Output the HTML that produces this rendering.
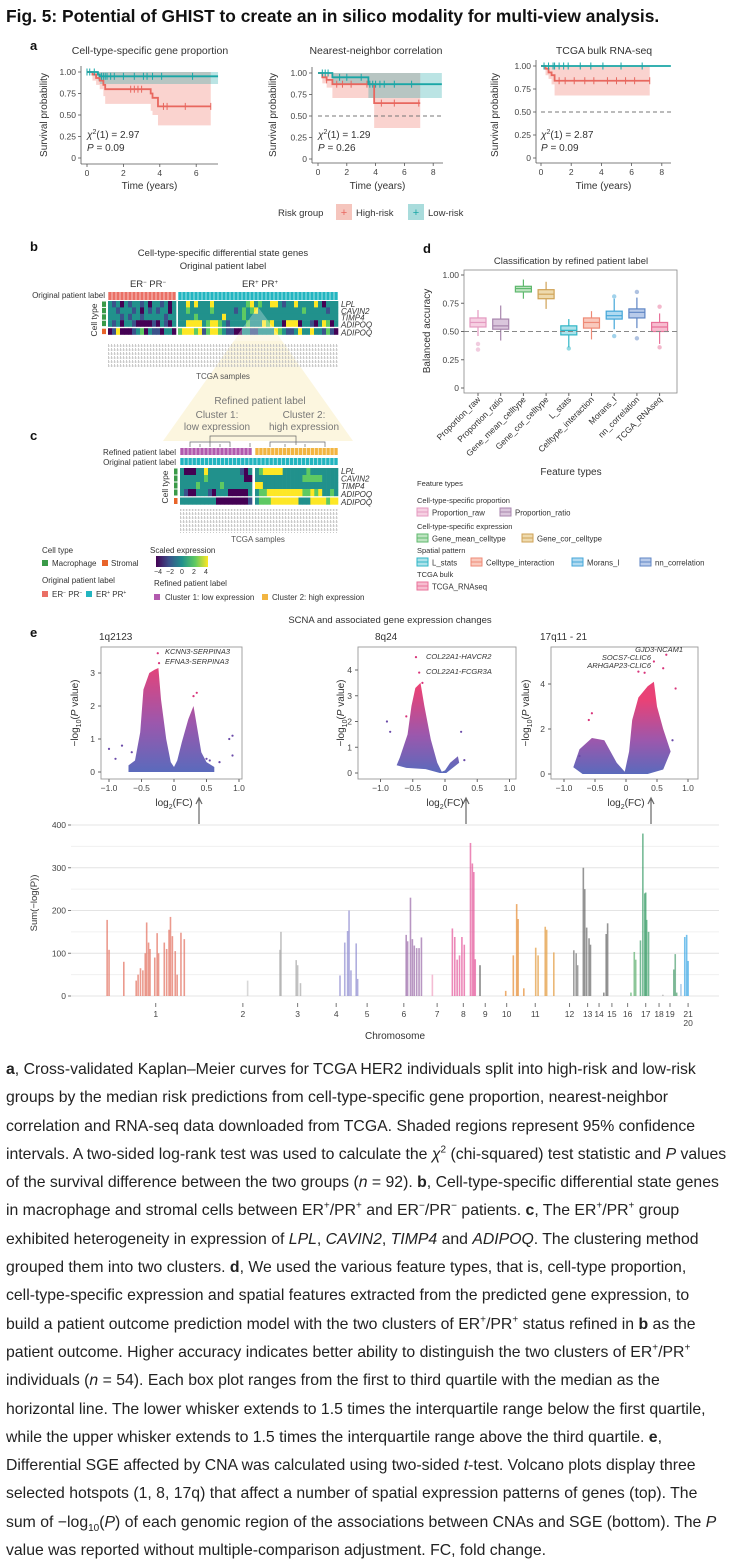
<!DOCTYPE html>
<html><head><meta charset="utf-8">
<style>
html,body{margin:0;padding:0;background:#fff;}
body{width:738px;height:1563px;position:relative;overflow:hidden;font-family:"Liberation Sans",sans-serif;color:#222;}
#hdr{position:absolute;left:6px;top:6px;font-weight:bold;font-size:17.4px;white-space:nowrap;color:#111;}
#fig{position:absolute;left:0;top:0;}
#cap{position:absolute;left:6px;top:1056px;font-size:15.8px;line-height:28.3px;color:#222;}
#cap div{white-space:nowrap;height:28.3px;}
#cap sup,#cap sub{line-height:0;font-size:10px;}
svg text{font-family:"Liberation Sans",sans-serif;}
</style></head><body>
<div id="hdr">Fig. 5: Potential of GHIST to create an in silico modality for multi-view analysis.</div>
<svg id="fig" width="738" height="1050"></svg>
<div id="cap">
<div><b>a</b>, Cross-validated Kaplan–Meier curves for TCGA HER2 individuals split into high-risk and low-risk</div>
<div>groups by the median risk predictions from cell-type-specific gene proportion, nearest-neighbor</div>
<div>correlation and RNA-seq data downloaded from TCGA. Shaded regions represent 95% confidence</div>
<div>intervals. A two-sided log-rank test was used to calculate the <i>χ</i><sup>2</sup> (chi-squared) test statistic and <i>P</i> values</div>
<div>of the survival difference between the two groups (<i>n</i> = 92). <b>b</b>, Cell-type-specific differential state genes</div>
<div>in macrophage and stromal cells between ER<sup>+</sup>/PR<sup>+</sup> and ER<sup>−</sup>/PR<sup>−</sup> patients. <b>c</b>, The ER<sup>+</sup>/PR<sup>+</sup> group</div>
<div>exhibited heterogeneity in expression of <i>LPL</i>, <i>CAVIN2</i>, <i>TIMP4</i> and <i>ADIPOQ</i>. The clustering method</div>
<div>grouped them into two clusters. <b>d</b>, We used the various feature types, that is, cell-type proportion,</div>
<div>cell-type-specific expression and spatial features extracted from the predicted gene expression, to</div>
<div>build a patient outcome prediction model with the two clusters of ER<sup>+</sup>/PR<sup>+</sup> status refined in <b>b</b> as the</div>
<div>patient outcome. Higher accuracy indicates better ability to distinguish the two clusters of ER<sup>+</sup>/PR<sup>+</sup></div>
<div>individuals (<i>n</i> = 54). Each box plot ranges from the first to third quartile with the median as the</div>
<div>horizontal line. The lower whisker extends to 1.5 times the interquartile range below the first quartile,</div>
<div>while the upper whisker extends to 1.5 times the interquartile range above the third quartile. <b>e</b>,</div>
<div>Differential SGE affected by CNA was calculated using two-sided <i>t</i>-test. Volcano plots display three</div>
<div>selected hotspots (1, 8, 17q) that affect a number of spatial expression patterns of genes (top). The</div>
<div>sum of −log<sub>10</sub>(<i>P</i>) of each genomic region of the associations between CNAs and SGE (bottom). The <i>P</i></div>
<div>value was reported without multiple-comparison adjustment. FC, fold change.</div>
</div>
<script>
// ---------- DATA ----------
const km1HighT=[0,0.3,0.5,0.7,0.9,1.0,3.5,3.6,3.9,6.8];
const km1HighS=[1,0.97,0.93,0.9,0.85,0.8,0.75,0.7,0.6,0.6];
const km1HighLo=[1,0.9,0.85,0.8,0.72,0.63,0.55,0.5,0.38,0.38];
const km1HighCens=[2.4,2.6,2.8,3.0,4.2,4.4,5.4,6.8];
const km1LowT=[0,0.6,0.7,7.2];
const km1LowS=[1,0.97,0.95,0.95];
const km1LowLo=[1,0.9,0.86,0.86];
const km1LowCens=[0,0.15,0.4,0.8,0.9,1.0,1.1,1.3,1.5,2.0,2.6,3.1,3.3,3.6,4.1,5.8];
const km2HighT=[0,0.3,0.6,1.0,3.9,7.1];
const km2HighS=[1,0.95,0.92,0.87,0.65,0.65];
const km2HighLo=[1,0.88,0.83,0.71,0.36,0.36];
const km2HighCens=[0.6,1.3,1.7,2.3,3.4,4.4,5.3,7.0];
const km2LowT=[0,1.0,3.5,8.6];
const km2LowS=[1,0.95,0.87,0.87];
const km2LowLo=[1,0.87,0.71,0.71];
const km2LowCens=[0.3,0.5,0.7,1.5,2.0,3.0,3.6,3.8,4.0,4.3,4.6,5.3,6.5];
const km3HighT=[0,0.3,0.5,0.7,0.9,7.2];
const km3HighS=[1,0.97,0.93,0.9,0.84,0.84];
const km3HighLo=[1,0.9,0.86,0.8,0.68,0.68];
const km3HighCens=[1.2,1.6,2.2,2.9,3.5,4.4,5.0,5.6,6.2,7.2];
const km3LowT=[0,8.6];
const km3LowS=[1,1];
const km3LowLo=[1,0.985];
const km3LowCens=[0.2,0.5,0.8,0.9,1.2,1.5,1.8,2.6,3.3,4.1,5.3,6.7];
const kmYTicks=[0,0.25,0.5,0.75,1];
const kmYTickLabels=["0","0.25","0.50","0.75","1.00"];
const hmBneg=["21202122120221202","22122212021212202","22212122122222122","21202210000102102","01400012302110220"];
const hmBpos=["2242422242222222234232244212242222420222","2232222232222212323422222222222322222122","2222322222242222322222222222222222222222","2244442344321222232224342204440221024302","3444341344321100221122224321124224221310"];
const hmC1=["200022422222222102","222222322222222200","222232222232222222","210022210222000002","222222222000000001"];
const hmC2=["234444422222232222222","222222222222333332222","442222222222222222222","233444444444334342232","233344444442224444344"];
const geneLabels=["LPL","CAVIN2","TIMP4","ADIPOQ","ADIPOQ"];
const boxCats=["Proportion_raw","Proportion_ratio","Gene_mean_celltype","Gene_cor_celltype","L_stats","Celltype_interaction","Morans_I","nn_correlation","TCGA_RNAseq"];
const boxQ1=[0.54,0.52,0.85,0.79,0.47,0.53,0.61,0.62,0.50];
const boxMed=[0.58,0.55,0.88,0.83,0.51,0.58,0.64,0.67,0.54];
const boxQ3=[0.62,0.61,0.90,0.87,0.55,0.62,0.68,0.70,0.58];
const boxLo=[0.46,0.42,0.79,0.70,0.36,0.43,0.52,0.53,0.39];
const boxHi=[0.69,0.73,0.96,0.94,0.61,0.68,0.79,0.80,0.66];
const boxOut=[[0.39,0.34],[],[],[],[0.35],[],[0.81,0.46],[0.85,0.44],[0.72,0.36]];
const boxYTicks=[0,0.25,0.5,0.75,1];
const boxYTickLabels=["0","0.25","0.50","0.75","1.00"];
const v1Env=[[-0.7,0],[-0.7,0.2],[-0.6,0.35],[-0.52,1.2],[-0.47,2.5],[-0.38,3.0],[-0.3,3.1],[-0.24,3.15],[-0.2,2.2],[-0.12,1.0],[-0.05,0.3],[0,0.15],[0.05,0.35],[0.12,0.9],[0.22,1.6],[0.3,2.0],[0.36,1.3],[0.42,0.6],[0.5,0.3],[0.62,0.15],[0.62,0]];
const v1Out=[[-1.0,0.7],[-0.9,0.4],[-0.8,0.8],[-0.65,0.6],[0.5,0.4],[0.55,0.35],[0.85,1.0],[0.9,1.1],[0.9,0.5],[0.35,2.4],[0.3,2.3],[-0.25,3.6],[-0.23,3.3],[0.7,0.3]];
const v2Env=[[-0.75,0.3],[-0.7,0.6],[-0.58,1.5],[-0.52,2.6],[-0.46,3.3],[-0.38,3.5],[-0.32,2.6],[-0.22,1.3],[-0.12,0.4],[-0.05,0.05],[0,0.1],[0.08,0.4],[0.2,0.65],[0.22,0.4],[0.12,0.2],[0.02,0],[-0.08,0],[-0.3,0.15],[-0.6,0.2]];
const v2Out=[[-0.45,4.5],[-0.4,3.9],[-0.9,2.0],[-0.85,1.6],[0.25,1.6],[0.3,0.5],[-0.6,2.2],[-0.35,3.5]];
const v3Env=[[-0.85,0.3],[-0.75,1.1],[-0.55,1.6],[-0.35,1.5],[-0.15,0.5],[-0.02,0.1],[0.05,1.0],[0.1,2.4],[0.2,3.4],[0.35,3.9],[0.45,4.1],[0.5,3.0],[0.6,2.0],[0.72,1.0],[0.6,0.2],[0.35,0],[-0.7,0]];
const v3Out=[[0.65,5.3],[0.45,5.0],[0.6,4.7],[0.3,4.5],[0.2,4.55],[0.8,3.8],[-0.6,2.4],[-0.55,2.7],[-0.75,0.8],[0.75,1.5]];
const manPos=[225,229,260,286,290,295,300,305,308,312,315,325,330,333,345,350,355,358,362,368,372,380,387,520,588,590,622,625,631,714,724,730,733,737,748,751,853,856,862,866,870,875,880,885,908,950,955,960,965,970,975,988,992,995,998,1008,1062,1078,1085,1088,1100,1125,1130,1145,1148,1163,1205,1210,1213,1225,1228,1232,1237,1240,1268,1273,1276,1325,1332,1335,1345,1350,1354,1356,1358,1362,1392,1415,1418,1421,1430,1438,1442,1445];
const manVal=[178,108,80,36,50,65,60,100,172,125,110,90,147,100,125,110,155,185,140,105,50,148,133,36,108,150,84,72,30,48,125,152,200,60,123,40,143,128,230,133,118,112,112,137,50,158,138,85,95,138,120,358,310,290,86,72,12,95,215,180,18,113,95,162,155,102,107,100,72,300,250,160,135,120,8,145,170,8,103,85,130,380,240,242,178,150,3,62,98,8,28,138,143,82];
const manChr=[1,1,1,1,1,1,1,1,1,1,1,1,1,1,1,1,1,1,1,1,1,1,1,2,3,3,3,3,3,4,4,4,4,4,4,4,6,6,6,6,6,6,6,6,7,8,8,8,8,8,8,8,8,8,8,9,10,10,10,10,10,11,11,11,11,11,12,12,12,13,13,13,13,13,15,15,15,16,16,16,17,17,17,17,17,17,18,19,19,19,20,21,21,21];
const chrLabels=["1","2","3","4","5","6","7","8","9","10","11","12","13","14","15","16","17","18","19","21"];
const chrTickPos=[327,510,625,706,771,848,918,973,1019,1064,1124,1196,1234,1258,1285,1318,1356,1384,1407,1445];
const manYTicks=[0,100,200,300,400];

// ---------- HELPERS ----------
const NS="http://www.w3.org/2000/svg";
const svg=document.getElementById('fig');
function mk(tag,attrs,parent){const e=document.createElementNS(NS,tag);for(const k in attrs)e.setAttribute(k,attrs[k]);(parent||svg).appendChild(e);return e;}
function tx(x,y,s,size,opts,parent){opts=opts||{};const e=mk('text',{x:x,y:y,'font-size':size,fill:opts.fill||'#333','text-anchor':opts.anchor||'start'},parent);if(opts.weight)e.setAttribute('font-weight',opts.weight);if(opts.style)e.setAttribute('font-style',opts.style);if(opts.rot)e.setAttribute('transform','rotate('+opts.rot+' '+x+' '+y+')');e.textContent=s;return e;}

const defs=mk('defs',{});
const pat=mk('pattern',{id:'noise',width:3,height:4,patternUnits:'userSpaceOnUse'},defs);
mk('rect',{x:0,y:0,width:0.8,height:3,fill:'#bdbdbd'},pat);
mk('rect',{x:1.5,y:1,width:0.7,height:2,fill:'#d5d5d5'},pat);
const viridis=['#440154','#3b528b','#21918c','#5ec962','#fde725'];
const cb=mk('linearGradient',{id:'vir',x1:0,x2:1,y1:0,y2:0},defs);
['#440154','#3b528b','#21918c','#5ec962','#fde725'].forEach((c,i)=>mk('stop',{offset:i/4,'stop-color':c},cb));

// ---------- PANEL A ----------
const kmCfg=[
 {x0:87,xs:18.2,y1:72,y0:158,ax:81,ay:164,xe:218,ticks:[0,2,4,6],title:"Cell-type-specific gene proportion",tc:150,ylx:47,dashed:false,chi:"2.97",p:"0.09",
  hT:km1HighT,hS:km1HighS,hL:km1HighLo,hC:km1HighCens,lT:km1LowT,lS:km1LowS,lL:km1LowLo,lC:km1LowCens},
 {x0:318,xs:14.4,y1:73,y0:159,ax:312,ay:163,xe:443,ticks:[0,2,4,6,8],title:"Nearest-neighbor correlation",tc:376,ylx:276,dashed:true,chi:"1.29",p:"0.26",
  hT:km2HighT,hS:km2HighS,hL:km2HighLo,hC:km2HighCens,lT:km2LowT,lS:km2LowS,lL:km2LowLo,lC:km2LowCens},
 {x0:541,xs:15.1,y1:66,y0:158,ax:536,ay:163,xe:671,ticks:[0,2,4,6,8],title:"TCGA bulk RNA-seq",tc:604,ylx:498,dashed:true,chi:" 2.87",p:"0.09",
  hT:km3HighT,hS:km3HighS,hL:km3HighLo,hC:km3HighCens,lT:km3LowT,lS:km3LowS,lL:km3LowLo,lC:km3LowCens}];
const lab_a=tx(30,50,"a",13,{weight:'bold',fill:'#111'});


function stepPath(T,S,X,Y){let d='M'+X(T[0])+','+Y(S[0]);for(let i=1;i<T.length;i++){d+=' L'+X(T[i])+','+Y(S[i-1])+' L'+X(T[i])+','+Y(S[i]);}return d;}
function bandPath(T,Lo,X,Y){let d='M'+X(T[0])+','+Y(1);d+=' L'+X(T[T.length-1])+','+Y(1);for(let i=T.length-1;i>=0;i--){d+=' L'+X(T[i])+','+Y(Lo[i]);if(i>0)d+=' L'+X(T[i])+','+Y(Lo[i-1]);}return d+'Z';}
kmCfg.forEach((c,pi)=>{
  const g=mk('g',{});
  
  
  const X=t=>c.x0+t*c.xs, Y=s=>c.y0-(c.y0-c.y1)*s;
  const t1=tx(c.tc,54,c.title,10.5,{anchor:'middle'},g);
  
  
  const bh=mk('path',{d:bandPath(c.hT,c.hL,X,Y),fill:'rgba(240,120,110,0.33)'},g);
  
  
  const bl=mk('path',{d:bandPath(c.lT,c.lL,X,Y),fill:'rgba(30,165,165,0.30)'},g);
  
  
  if(c.dashed){const dl=mk('line',{x1:X(0),x2:c.xe,y1:Y(0.5),y2:Y(0.5),stroke:'#777','stroke-width':1,'stroke-dasharray':'4,3'},g);
    
    }
  const lh=mk('path',{d:stepPath(c.hT,c.hS,X,Y),fill:'none',stroke:'#e8675f','stroke-width':1.8},g);
  
  
  const ll=mk('path',{d:stepPath(c.lT,c.lS,X,Y),fill:'none',stroke:'#1aa6a6','stroke-width':1.8},g);
  
  
  function survAt(T,S,t){let s=S[0];for(let i=0;i<T.length;i++){if(T[i]<=t)s=S[i];}return s;}
  c.hC.forEach(t=>{const m=mk('path',{d:'M'+X(t)+','+(Y(survAt(c.hT,c.hS,t))-3.5)+' v7',stroke:'#e8675f','stroke-width':1},g);
    
    });
  c.lC.forEach(t=>{const m=mk('path',{d:'M'+X(t)+','+(Y(survAt(c.lT,c.lS,t))-3.5)+' v7',stroke:'#1aa6a6','stroke-width':1},g);
    
    });
  const ya=mk('line',{x1:c.ax,x2:c.ax,y1:c.y1-6,y2:c.ay,stroke:'#555','stroke-width':0.8},g);
  
  
  const xa=mk('line',{x1:c.ax,x2:c.xe,y1:c.ay,y2:c.ay,stroke:'#555','stroke-width':0.8},g);
  
  
  kmYTicks.forEach((v,i)=>{mk('line',{x1:c.ax-3,x2:c.ax,y1:Y(v),y2:Y(v),stroke:'#555','stroke-width':0.8},g);
    const l=tx(c.ax-5,Y(v)+3,kmYTickLabels[i],8.5,{anchor:'end',fill:'#444'},g);
    
    });
  c.ticks.forEach(v=>{mk('line',{x1:X(v),x2:X(v),y1:c.ay,y2:c.ay+3,stroke:'#555','stroke-width':0.8},g);
    const l=tx(X(v),c.ay+12,String(v),8.5,{anchor:'middle',fill:'#444'},g);
    
    });
  const xt=tx((c.ax+c.xe)/2,189,"Time (years)",10,{anchor:'middle'},g);
  
  
  const yt=tx(c.ylx,115,"Survival probability",10,{anchor:'middle',rot:-90},g);
  
  
  const ch=mk('text',{x:c.x0,y:138,'font-size':10,fill:'#333'},g);
  ch.innerHTML='<tspan font-style="italic">χ</tspan><tspan dy="-4" font-size="7">2</tspan><tspan dy="4">(1) = '+c.chi+'</tspan>';
  
  
  const pv=mk('text',{x:c.x0,y:151,'font-size':10,fill:'#333'},g);
  pv.innerHTML='<tspan font-style="italic">P</tspan> = '+c.p;
  
  
});
const lg=mk('g',{});


tx(278,216,"Risk group",9.5,{},lg);
mk('rect',{x:336,y:204,width:16,height:16,fill:'#f5c5bd'},lg);
tx(344,216,"+",11,{anchor:'middle',fill:'#e8675f'},lg);
const hrl=tx(356,216,"High-risk",9.5,{},lg);


mk('rect',{x:408,y:204,width:16,height:16,fill:'#a9dcdc'},lg);
tx(416,216,"+",11,{anchor:'middle',fill:'#1aa6a6'},lg);
const lrl=tx(428,216,"Low-risk",9.5,{},lg);



// ---------- PANEL B / C ----------
const trap=mk('polygon',{points:'258,307 163,441 353,441',fill:'#fbf3d4',opacity:0.75});


const lb=tx(30,251,"b",13,{weight:'bold',fill:'#111'});


const bt1=tx(223,256,"Cell-type-specific differential state genes",9.5,{anchor:'middle'});


const bt2=tx(223,269,"Original patient label",9.5,{anchor:'middle'});


const ern=mk('text',{x:148,y:287,'font-size':9.5,fill:'#333','text-anchor':'middle'});
ern.innerHTML='ER<tspan dy="-3" font-size="6">−</tspan><tspan dy="3"> PR</tspan><tspan dy="-3" font-size="6">−</tspan>';


const erp=mk('text',{x:260,y:287,'font-size':9.5,fill:'#333','text-anchor':'middle'});
erp.innerHTML='ER<tspan dy="-3" font-size="6">+</tspan><tspan dy="3"> PR</tspan><tspan dy="-3" font-size="6">+</tspan>';



function labelBar(x0,x1,y,h,n,color,name){
  const w=(x1-x0)/n;
  for(let i=0;i<n;i++){const r=mk('rect',{x:x0+i*w+0.3,y:y,width:w-0.6,height:h,fill:color});
    
    }
}
function heat(rows,x0,x1,y0,rh,gap,name){
  const n=rows[0].length,w=(x1-x0)/n;
  rows.forEach((row,ri)=>{const yy=y0+ri*rh+(ri===4?gap:0);
    for(let i=0;i<n;i++){const r=mk('rect',{x:x0+i*w,y:yy,width:w+0.3,height:rh+0.2,fill:viridis[+row[i]]});
      
      }});
}
const opl=tx(105,298,"Original patient label",8,{anchor:'end'});


labelBar(108,176,292,8,17,'#ea6f65','label-er-negative');
labelBar(178,338,292,8,40,'#22b5c0','label-er-positive');
heat(hmBneg,108,176,301,6.4,1.6,'heatmap-cell');
heat(hmBpos,178,338,301,6.4,1.6,'heatmap-cell');
const shade=mk('polygon',{points:'258,307 233,341 283,341',fill:'#fff',opacity:0.28});


for(let i=0;i<5;i++){const r=mk('rect',{x:102,y:301+i*6.4+(i===4?1.6:0)+0.5,width:4,height:5.4,fill:i<4?'#3a9a48':'#e8642a'});
  
  }
const ctb=tx(97,320,"Cell type",8.5,{anchor:'middle',rot:-90});


geneLabels.forEach((gname,i)=>{const t=tx(341,307+i*6.8+(i===4?1.4:0),gname,8,{style:'italic'});
  
  });
const nb=mk('rect',{x:108,y:343,width:230,height:24,fill:'url(#noise)'});


const tsb=tx(223,379,"TCGA samples",8,{anchor:'middle',fill:'#555'});


const rpl=tx(260,404,"Refined patient label",10,{anchor:'middle',fill:'#777'});


tx(217,418,"Cluster 1:",10,{anchor:'middle',fill:'#777'});
tx(217,430,"low expression",10,{anchor:'middle',fill:'#777'});
tx(304,418,"Cluster 2:",10,{anchor:'middle',fill:'#777'});
tx(304,430,"high expression",10,{anchor:'middle',fill:'#777'});
const lc=tx(30,440,"c",13,{weight:'bold',fill:'#111'});


const dend=mk('path',{d:'M210,447 V436 H296 V445 M190,447 V442 H230 V447 M200,447 V444 M220,447 V444 M270,447 V442 H325 V447 M285,447 V444 M305,447 V444 M250,447 V443',fill:'none',stroke:'#666','stroke-width':0.7});


const rplc=tx(176,455,"Refined patient label",8,{anchor:'end'});


const oplc=tx(176,465,"Original patient label",8,{anchor:'end'});


labelBar(180,252,448,7,18,'#b25aae','label-cluster-1');
labelBar(255,338,448,7,21,'#f2b541','label-cluster-2');
labelBar(180,338,458,7,39,'#22b5c0','label-er-positive');
heat(hmC1,180,252,468,7,1.5,'heatmap-cell');
heat(hmC2,255,338,468,7,1.5,'heatmap-cell');
for(let i=0;i<5;i++){const r=mk('rect',{x:174,y:468+i*7+(i===4?1.5:0)+0.5,width:3.5,height:6,fill:i<4?'#3a9a48':'#e8642a'});
  
  }
const ctc=tx(168,487,"Cell type",8.5,{anchor:'middle',rot:-90});


geneLabels.forEach((gname,i)=>{const t=tx(341,474+i*7.6+(i===4?0.8:0),gname,8,{style:'italic'});
  
  });
const nc=mk('rect',{x:180,y:509,width:158,height:24,fill:'url(#noise)'});


const tsc=tx(258,542,"TCGA samples",8,{anchor:'middle',fill:'#555'});


const lgbc=mk('g',{});


tx(42,553,"Cell type",8,{},lgbc);
mk('rect',{x:42,y:560,width:6,height:6,fill:'#3a9a48'},lgbc);tx(52,566,"Macrophage",8,{},lgbc);
mk('rect',{x:102,y:560,width:6,height:6,fill:'#e8642a'},lgbc);tx(111,566,"Stromal",8,{},lgbc);
tx(42,583,"Original patient label",8,{},lgbc);
mk('rect',{x:42,y:591,width:6,height:6,fill:'#ea6f65'},lgbc);
const l1=mk('text',{x:52,y:597,'font-size':8,fill:'#333'},lgbc);l1.innerHTML='ER<tspan dy="-3" font-size="5">−</tspan><tspan dy="3"> PR</tspan><tspan dy="-3" font-size="5">−</tspan>';
mk('rect',{x:86,y:591,width:6,height:6,fill:'#22b5c0'},lgbc);
const l2=mk('text',{x:96,y:597,'font-size':8,fill:'#333'},lgbc);l2.innerHTML='ER<tspan dy="-3" font-size="5">+</tspan><tspan dy="3"> PR</tspan><tspan dy="-3" font-size="5">+</tspan>';
tx(150,553,"Scaled expression",8,{},lgbc);
const cbar=mk('rect',{x:156,y:556,width:52,height:11,fill:'url(#vir)'},lgbc);


["−4","−2","0","2","4"].forEach((s,i)=>tx(158+i*12,574,s,7,{anchor:'middle'},lgbc));
tx(154,586,"Refined patient label",8,{},lgbc);
mk('rect',{x:154,y:594,width:6,height:6,fill:'#b25aae'},lgbc);tx(165,600,"Cluster 1: low expression",8,{},lgbc);
mk('rect',{x:262,y:594,width:6,height:6,fill:'#f2b541'},lgbc);tx(272,600,"Cluster 2: high expression",8,{},lgbc);

// ---------- PANEL D ----------
const ld=tx(423,253,"d",13,{weight:'bold',fill:'#111'});


const dt=tx(571,264,"Classification by refined patient label",9.5,{anchor:'middle'});


const dX0=464,dX1=677,dY0=388,dYs=113;
const dY=v=>dY0-v*dYs;
const dXc=i=>478+i*22.7;
const dframe=mk('rect',{x:dX0,y:270,width:dX1-dX0,height:123,fill:'none',stroke:'#888','stroke-width':0.8});


boxYTicks.forEach((v,i)=>{mk('line',{x1:dX0-3,x2:dX0,y1:dY(v),y2:dY(v),stroke:'#666'});
  const t=tx(dX0-5,dY(v)+3,boxYTickLabels[i],8.5,{anchor:'end',fill:'#444'});
  
  });
const dyt=tx(430,331,"Balanced accuracy",10,{anchor:'middle',rot:-90});


const boxStroke=['#e49ac0','#a886ad','#5fb86e','#cfa256','#2fb5c6','#ee8a76','#43a6d8','#5f86c4','#e8729a'];
const boxFill=['#f6d0e2','#dac6dc','#bde3c0','#eedaae','#ace2ea','#f9c9bd','#b0daf1','#b9cbea','#f7bdd0'];
boxCats.forEach((c,i)=>{
  const g=mk('g',{});
  
  
  const x=dXc(i),w=16;
  mk('line',{x1:x,x2:x,y1:dY(boxLo[i]),y2:dY(boxHi[i]),stroke:boxStroke[i],'stroke-width':1.2},g);
  mk('rect',{x:x-w/2,y:dY(boxQ3[i]),width:w,height:dY(boxQ1[i])-dY(boxQ3[i]),fill:boxFill[i],stroke:boxStroke[i],'stroke-width':1.2},g);
  mk('line',{x1:x-w/2,x2:x+w/2,y1:dY(boxMed[i]),y2:dY(boxMed[i]),stroke:boxStroke[i],'stroke-width':1.2},g);
  boxOut[i].forEach(o=>{const p=mk('circle',{cx:x,cy:dY(o),r:2.2,fill:boxStroke[i],opacity:0.5},g);
    
    });
  mk('line',{x1:x,x2:x,y1:393,y2:396,stroke:'#666'});
  const t=tx(x+3,400,c,8.5,{anchor:'end',rot:-45,fill:'#333'});
  
  
});
const dref=mk('line',{x1:dX0,x2:dX1,y1:dY(0.5),y2:dY(0.5),stroke:'#888','stroke-width':1,'stroke-dasharray':'5,3'});


const dxt=tx(571,475,"Feature types",10,{anchor:'middle'});


const lgd=mk('g',{});


tx(417,486,"Feature types",7.5,{},lgd);
const legGroups=[["Cell-type-specific proportion",503,[[0,417],[1,500]]],["Cell-type-specific expression",529,[[2,417],[3,522]]],["Spatial pattern",553,[[4,417],[5,471],[6,572],[7,640]]],["TCGA bulk",577,[[8,417]]]];
legGroups.forEach(gr=>{tx(417,gr[1],gr[0],7.5,{},lgd);
  gr[2].forEach(e=>{const y=gr[1]+5;mk('rect',{x:e[1],y:y,width:11,height:8,fill:boxFill[e[0]],stroke:boxStroke[e[0]]},lgd);
    mk('line',{x1:e[1],x2:e[1]+11,y1:y+4,y2:y+4,stroke:boxStroke[e[0]]},lgd);
    const t=tx(e[1]+15,y+7.5,boxCats[e[0]],7.8,{},lgd);
    
    });});

// ---------- PANEL E ----------
const le=tx(30,637,"e",13,{weight:'bold',fill:'#111'});


const et=tx(390,623,"SCNA and associated gene expression changes",9.5,{anchor:'middle'});


const vCfg=[
 {fx0:101,fx1:242,x0:174,xs:65,y0:772,ys:33,yt:[0,1,2,3],title:"1q2123",tx:99,env:v1Env,out:v1Out,arrow:199,ylx:78,
  lab:[["KCNN3-SERPINA3",165,654,'start'],["EFNA3-SERPINA3",165,664,'start']]},
 {fx0:358,fx1:516,x0:445,xs:64.5,y0:773,ys:25.75,yt:[0,1,2,3,4],title:"8q24",tx:375,env:v2Env,out:v2Out,arrow:466,ylx:344,
  lab:[["COL22A1-HAVCR2",426,659,'start'],["COL22A1-FCGR3A",426,674,'start']]},
 {fx0:551,fx1:698,x0:626,xs:62,y0:774,ys:22.5,yt:[0,2,4],title:"17q11 - 21",tx:540,env:v3Env,out:v3Out,arrow:651,ylx:529,
  lab:[["GJD3-NCAM1",683,652,'end'],["SOCS7-CLIC6",651,660,'end'],["ARHGAP23-CLIC6",651,668,'end']]}];
vCfg.forEach((c,vi)=>{
  const g=mk('g',{});
  
  
  const X=v=>c.x0+v*c.xs, Y=v=>c.y0-v*c.ys;
  const gid='vg'+vi;
  const lgr=mk('linearGradient',{id:gid,x1:0,x2:0,y1:c.y0,y2:Y(3.3),gradientUnits:'userSpaceOnUse'},defs);
  mk('stop',{offset:0,'stop-color':'#3d50b0'},lgr);mk('stop',{offset:0.45,'stop-color':'#8a3a9e'},lgr);mk('stop',{offset:1,'stop-color':'#e5205e'},lgr);
  const vt=tx(c.tx,640,c.title,10,{},g);
  
  
  const fr=mk('rect',{x:c.fx0,y:647,width:c.fx1-c.fx0,height:132,fill:'none',stroke:'#999','stroke-width':0.9},g);
  
  
  const poly=mk('polygon',{points:c.env.map(p=>X(p[0])+','+Y(p[1])).join(' '),fill:'url(#'+gid+')',opacity:0.85},g);
  
  
  c.out.forEach(p=>{const cc=mk('circle',{cx:X(p[0]),cy:Y(p[1]),r:1.1,fill:p[1]>2?'#d8337a':'#6a4aa8'},g);
    
    });
  c.lab.forEach(l=>{const t=tx(l[1],l[2],l[0],7.5,{style:'italic',anchor:l[3]},g);
    
    });
  c.yt.forEach(v=>{mk('line',{x1:c.fx0-3,x2:c.fx0,y1:Y(v),y2:Y(v),stroke:'#666'},g);
    const t=tx(c.fx0-6,Y(v)+3,String(v),8.5,{anchor:'end',fill:'#444'},g);
    
    });
  [-1,-0.5,0,0.5,1].forEach(v=>{mk('line',{x1:X(v),x2:X(v),y1:779,y2:782,stroke:'#666'},g);
    const t=tx(X(v),791,v===0?"0":(v<0?"−":"")+Math.abs(v).toFixed(1),8.5,{anchor:'middle',fill:'#444'},g);
    
    });
  const xl=mk('text',{x:X(0),y:806,'font-size':10,fill:'#333','text-anchor':'middle'},g);
  xl.innerHTML='log<tspan dy="3" font-size="7">2</tspan><tspan dy="-3">(FC)</tspan>';
  
  
  const yl=mk('text',{x:c.ylx,y:713,'font-size':10,fill:'#333','text-anchor':'middle',transform:'rotate(-90 '+c.ylx+' 713)'},g);
  yl.innerHTML='−log<tspan dy="3" font-size="7">10</tspan><tspan dy="-3">(</tspan><tspan font-style="italic">P</tspan> value)';
  
  
  const ar=mk('path',{d:'M'+c.arrow+',824 V799 M'+(c.arrow-3)+',804 L'+c.arrow+',798 L'+(c.arrow+3)+',804',fill:'none',stroke:'#666','stroke-width':1.2},g);
  
  
});
const mX=v=>v/2.1, mY=v=>996-v*0.4275;
const mg=mk('g',{});


[0,50,100,150,200,250,300,350,400].forEach(v=>{const gl=mk('line',{x1:71,x2:719,y1:mY(v),y2:mY(v),stroke:v%100===0?'#e4e4e4':'#f0f0f0','stroke-width':1},mg);
  
  });
manYTicks.forEach(v=>{mk('line',{x1:68,x2:71,y1:mY(v),y2:mY(v),stroke:'#777'},mg);
  const t=tx(66,mY(v)+3,String(v),8.5,{anchor:'end',fill:'#444'},mg);
  
  });
const myl=tx(37,903,"Sum(−log(P))",9.5,{anchor:'middle',rot:-90},mg);


const chrColor={1:'#e26f5e',2:'#c8c8c8',3:'#a8a8a8',4:'#8e8bd0',6:'#9a6aa8',7:'#f0a0c0',8:'#e4559a',9:'#555',10:'#e68a30',11:'#e39a3c',12:'#777',13:'#6a6a6a',15:'#666',16:'#5fb070',17:'#3c9e6a',18:'#aaa',19:'#4fa070',20:'#8ab8e0',21:'#3aa6e4'};
manPos.forEach((p,i)=>{const v=manVal[i];
  const b=mk('rect',{x:mX(p)-0.8,y:mY(v),width:1.6,height:mY(0)-mY(v),fill:chrColor[manChr[i]]||'#999',opacity:0.7},mg);
  
  });
chrTickPos.forEach((p,i)=>{mk('line',{x1:mX(p),x2:mX(p),y1:1003,y2:1007,stroke:'#777'},mg);
  const t=tx(mX(p),1017,chrLabels[i],8.5,{anchor:'middle',fill:'#444'},mg);
  
  });
const c2022=tx(mX(1445),1026,"20",8.5,{anchor:'middle',fill:'#444'},mg);


const cht=tx(395,1039,"Chromosome",10,{anchor:'middle'},mg);


</script>
</body></html>
